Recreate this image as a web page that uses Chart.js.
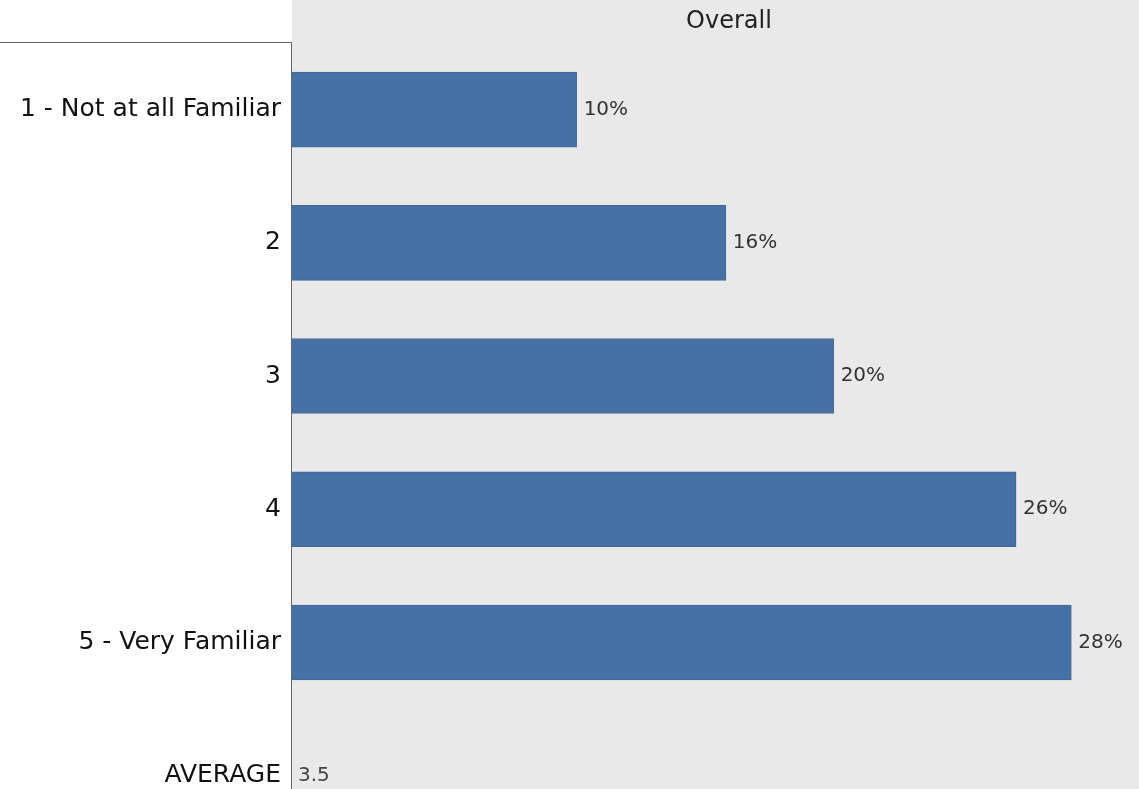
<!DOCTYPE html>
<html>
<head>
<meta charset="utf-8">
<script src="https://cdn.jsdelivr.net/npm/chart.js@4/dist/chart.umd.min.js"></script>
<style>
    html, body { margin: 0; padding: 0; background: #ffffff; }
    #wrap { width: 1139px; height: 789px; }
</style>
</head>
<body>
<div id="wrap"><canvas id="familiarChart"></canvas></div>
<script>
// Chart data (bar lengths, labels are the rounded %)
const categories = ['1 - Not at all Familiar', '2', '3', '4', '5 - Very Familiar', 'AVERAGE'];
const percents = [10.3, 15.7, 19.6, 26.2, 28.2];
const averageText = '3.5';
const headerTitle = 'Overall';

const labelFont = '"DejaVu Sans", sans-serif';

// Panel background, header and separator lines
const panelPlugin = {
    id: 'panel',
    beforeDraw(chart) {
        const { ctx, chartArea } = chart;
        ctx.save();
        ctx.fillStyle = '#e9e9e9';
        ctx.fillRect(chartArea.left, 0, chart.width - chartArea.left, chart.height);
        ctx.strokeStyle = '#666666';
        ctx.lineWidth = 1;
        ctx.beginPath();
        ctx.moveTo(0, chartArea.top - 0.5);
        ctx.lineTo(chartArea.left, chartArea.top - 0.5);
        ctx.moveTo(chartArea.left - 0.5, chartArea.top - 0.5);
        ctx.lineTo(chartArea.left - 0.5, chart.height);
        ctx.stroke();
        ctx.fillStyle = '#222222';
        ctx.font = '24px ' + labelFont;
        ctx.textAlign = 'center';
        ctx.textBaseline = 'middle';
        ctx.fillText(headerTitle, 729, 22);
        ctx.restore();
    },
    afterDatasetsDraw(chart) {
        const { ctx } = chart;
        const meta = chart.getDatasetMeta(0);
        ctx.save();
        ctx.fillStyle = '#333333';
        ctx.font = '20px ' + labelFont;
        ctx.textAlign = 'left';
        ctx.textBaseline = 'middle';
        meta.data.forEach((bar, i) => {
            ctx.fillText(Math.round(percents[i]) + '%', bar.x + 7, bar.y);
        });
        // Average value next to the axis
        const yScale = chart.scales.y;
        ctx.fillStyle = '#444444';
        ctx.fillText(averageText, chart.chartArea.left + 6, yScale.getPixelForValue(categories.length - 1));
        ctx.restore();
    }
};

const ctx = document.getElementById('familiarChart');
new Chart(ctx, {
    type: 'bar',
    data: {
        datasets: [{
            data: percents.map((v, i) => ({ x: v, y: i })),
            backgroundColor: '#4671a5',
            borderColor: '#3f6697',
            borderWidth: 1,
            barThickness: 75
        }]
    },
    options: {
        indexAxis: 'y',
        responsive: true,
        maintainAspectRatio: false,
        animation: false,
        layout: { padding: { top: 43, left: 0, right: 0, bottom: 0 } },
        plugins: {
            legend: { display: false },
            tooltip: { enabled: false }
        },
        scales: {
            x: {
                display: false,
                min: 0,
                max: 30.65
            },
            y: {
                type: 'linear',
                reverse: true,
                offset: false,
                min: -0.5,
                max: 5.1,
                afterFit(scale) {
                    scale.width = 292;
                    scale.paddingTop = 0;
                    scale.paddingBottom = 0;
                },
                afterBuildTicks(scale) {
                    scale.ticks = categories.map((c, i) => ({ value: i }));
                },
                grid: { display: false },
                border: { display: false },
                ticks: {
                    autoSkip: false,
                    padding: 3,
                    color: '#111111',
                    font: { family: labelFont, size: 25 },
                    callback: (value) => categories[value] !== undefined ? categories[value] : ''
                }
            }
        }
    },
    plugins: [panelPlugin]
});
</script>
</body>
</html>
